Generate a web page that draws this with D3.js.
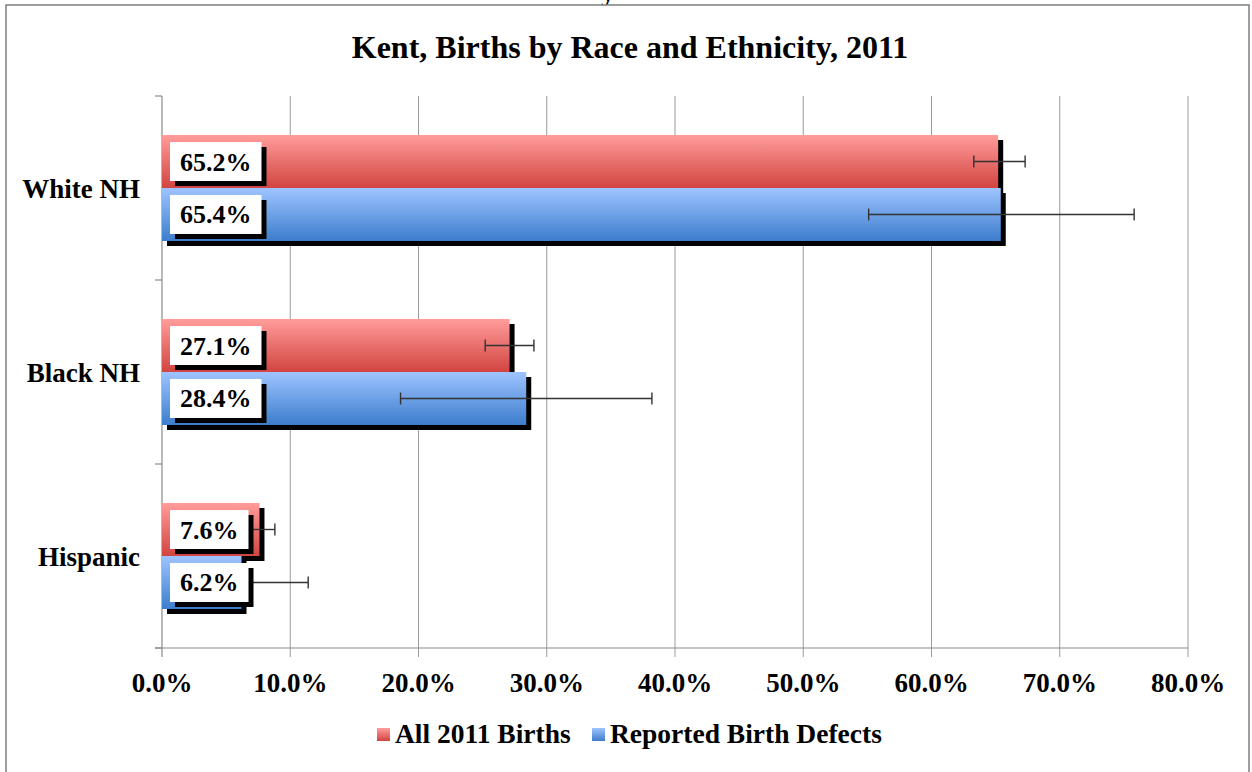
<!DOCTYPE html>
<html>
<head>
<meta charset="utf-8">
<script src="https://cdn.jsdelivr.net/npm/d3@7"></script>
<style>
  body { margin: 0; background: #fff; }
</style>
</head>
<body>
<svg id="chart" width="1252" height="772"></svg>
<script>
// chart values
var categories = ["White NH", "Black NH", "Hispanic"];
var seriesNames = ["All 2011 Births", "Reported Birth Defects"];
var allBirths = [65.2, 27.1, 7.6];
var birthDefects = [65.4, 28.4, 6.2];
var allBirthsLow = [63.3, 25.2, 6.4];
var allBirthsHigh = [67.3, 29.0, 8.8];
var defectsLow = [55.1, 18.6, 1.0];
var defectsHigh = [75.8, 38.2, 11.4];
var xTicks = [0, 10, 20, 30, 40, 50, 60, 70, 80];

var FONT = "'Liberation Serif'";

var svg = d3.select("#chart");

function txt(sel){
  return sel.append("text").attr("font-family", FONT).attr("font-weight", "bold").attr("fill", "#000");
}

// gradients for the two series
var defs = svg.append("defs");
function gradient(id, top, bottom){
  var g = defs.append("linearGradient").attr("id", id)
    .attr("x1", 0).attr("y1", 0).attr("x2", 0).attr("y2", 1);
  g.append("stop").attr("offset", "0%").attr("stop-color", top);
  g.append("stop").attr("offset", "100%").attr("stop-color", bottom);
}
gradient("gRed", "#ff9d9b", "#d24440");
gradient("gBlue", "#9ec4ff", "#3c7dcc");
var fills = ["url(#gRed)", "url(#gBlue)"];

// outer frame (top and left edge visible), with the cut-off letter above it
txt(svg).attr("x", 608).attr("y", 1).attr("font-size", 28).attr("text-anchor", "middle").text("y");
svg.append("rect").attr("x", 6).attr("y", 5).attr("width", 1243).attr("height", 800)
  .attr("fill", "#fff").attr("stroke", "#7f7f7f").attr("stroke-width", 1.5);

txt(svg).attr("x", 630).attr("y", 58).attr("text-anchor", "middle")
  .attr("font-size", 32).text("Kent, Births by Race and Ethnicity, 2011");

var x = d3.scaleLinear().domain([0, 80]).range([162, 1188]);
var y = d3.scaleBand().domain(categories).range([96, 648]).paddingInner(0.424).paddingOuter(0.212);
var ySub = d3.scaleBand().domain(d3.range(2)).range([0, y.bandwidth()]);

// gridlines
svg.append("g").selectAll("line").data(xTicks.slice(1)).enter().append("line")
  .attr("x1", function(d){ return x(d); }).attr("x2", function(d){ return x(d); })
  .attr("y1", 96).attr("y2", 657)
  .attr("stroke", function(d){ return d == 80 ? "#bdbdbd" : "#9a9a9a"; })
  .attr("stroke-width", function(d){ return d == 80 ? 1.5 : 1; });

// axes
svg.append("line").attr("x1", x(0)).attr("x2", x(0)).attr("y1", 96).attr("y2", 657).attr("stroke", "#8a8a8a").attr("stroke-width", 1.2);
svg.append("line").attr("x1", 155).attr("x2", x(80)).attr("y1", 648).attr("y2", 648).attr("stroke", "#8a8a8a").attr("stroke-width", 1.2);
var bounds = [96].concat(categories.map(function(c){ return y(c) - y.step() * y.paddingInner() / 2 + y.step(); }));
svg.append("g").selectAll("line").data(bounds).enter().append("line")
  .attr("x1", 155).attr("x2", x(0))
  .attr("y1", function(d){ return d; }).attr("y2", function(d){ return d; })
  .attr("stroke", "#8a8a8a").attr("stroke-width", 1.2);

var xl = svg.append("g");
xTicks.forEach(function(d){
  txt(xl).attr("x", x(d)).attr("y", 692)
    .attr("text-anchor", "middle").attr("font-size", 27)
    .text(d.toFixed(1) + "%");
});

var yl = svg.append("g");
categories.forEach(function(d){
  txt(yl).attr("x", 140).attr("y", y(d) + y.bandwidth() / 2 + 9.5)
    .attr("text-anchor", "end").attr("font-size", 27).text(d);
});

// one row per bar
var rows = [];
categories.forEach(function(c, i){
  rows.push({cat: c, s: 0, v: allBirths[i], lo: allBirthsLow[i], hi: allBirthsHigh[i]});
  rows.push({cat: c, s: 1, v: birthDefects[i], lo: defectsLow[i], hi: defectsHigh[i]});
});
function barY(d){ return y(d.cat) + ySub(d.s); }

var bars = svg.append("g");
rows.forEach(function(d){
  bars.append("rect").attr("x", x(0) + 5).attr("y", barY(d) + 5)
    .attr("width", x(d.v) - x(0)).attr("height", ySub.bandwidth()).attr("fill", "#000");
  bars.append("rect").attr("x", x(0)).attr("y", barY(d))
    .attr("width", x(d.v) - x(0)).attr("height", ySub.bandwidth()).attr("fill", fills[d.s]);
});

// error bars
var err = svg.append("g").attr("stroke", "#333").attr("stroke-width", 1.4);
rows.forEach(function(d){
  var cy = barY(d) + ySub.bandwidth() / 2;
  err.append("line").attr("x1", x(d.lo)).attr("x2", x(d.hi)).attr("y1", cy).attr("y2", cy);
  err.append("line").attr("x1", x(d.lo)).attr("x2", x(d.lo)).attr("y1", cy - 6).attr("y2", cy + 6);
  err.append("line").attr("x1", x(d.hi)).attr("x2", x(d.hi)).attr("y1", cy - 6).attr("y2", cy + 6);
});

// value labels in white boxes with shadow
var labels = svg.append("g");
rows.forEach(function(d){
  var cy = barY(d) + ySub.bandwidth() / 2;
  var g = labels.append("g");
  var shadow = g.append("rect").attr("fill", "#000");
  var box = g.append("rect").attr("fill", "#fff");
  var t = txt(g).attr("x", 180).attr("y", cy + 9).attr("font-size", 26).text(d.v.toFixed(1) + "%");
  var w = t.node().getComputedTextLength() + 20;
  box.attr("x", 170).attr("y", cy - 19.5).attr("width", w).attr("height", 39);
  shadow.attr("x", 175).attr("y", cy - 14.5).attr("width", w).attr("height", 39);
});

// legend
var legend = svg.append("g");
var lx = [377, 592];
seriesNames.forEach(function(n, i){
  legend.append("rect").attr("x", lx[i]).attr("y", 728).attr("width", 13).attr("height", 13).attr("fill", fills[i]);
  txt(legend).attr("x", lx[i] + 18).attr("y", 743).attr("font-size", 27.5).text(n);
});
</script>
</body>
</html>
